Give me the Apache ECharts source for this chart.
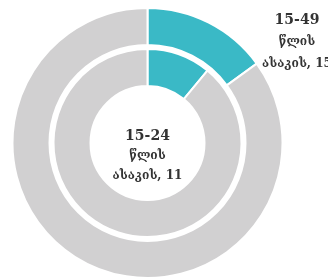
<!DOCTYPE html>
<html lang="ka">
<head>
    <meta charset="UTF-8">
    <title>chart</title>
    <script src="https://cdn.jsdelivr.net/npm/echarts@6/dist/echarts.min.js"></script>
    <style>
        html, body { margin: 0; padding: 0; background: #fff; }
    </style>
</head>
<body>
<div id="chart" style="width: 328px;height:280px;"></div>
<script type="text/javascript">
    // ring data: first item is the highlighted share, second is the rest
    var outerNames = ['15-49 წლის ასაკის', 'სხვა'];
    var outerValues = [15, 85];
    var innerNames = ['15-24 წლის ასაკის', 'სხვა'];
    var innerValues = [11, 89];

    var teal = '#3ab9c6';
    var grey = '#d1d0d1';

    function toData(names, values) {
        var arr = [];
        for (var i = 0; i < names.length; i++) {
            arr.push({
                name: names[i],
                value: values[i],
                itemStyle: {color: i === 0 ? teal : grey},
                label: {show: i === 0}
            });
        }
        return arr;
    }

    function labelText(p) {
        var parts = p.name.split(' ');
        return '{a|' + parts[0] + '}\n{b|' + parts[1] + '}\n{b|' + parts[2] + ', ' + p.value + '}';
    }

    function richStyle(lh) {
        return {
            a: {fontFamily: 'DejaVu Serif', fontWeight: 'bold', fontSize: 14, color: '#333', lineHeight: lh},
            b: {fontFamily: 'DejaVu Serif', fontWeight: 'bold', fontSize: 12, color: '#333', lineHeight: lh}
        };
    }

    var myChart = echarts.init(document.getElementById('chart'));
    var option = {
        animation: false,
        series: [{
            type: 'pie',
            silent: true,
            center: [147.5, 143],
            radius: [98, 135],
            startAngle: 90,
            itemStyle: {borderColor: '#fff', borderWidth: 2},
            label: {
                position: 'outside',
                formatter: labelText,
                rich: richStyle(22),
                align: 'center',
                overflow: 'none'
            },
            labelLine: {show: false},
            labelLayout: {x: 297, y: 42, align: 'center', verticalAlign: 'middle'},
            data: toData(outerNames, outerValues)
        }, {
            type: 'pie',
            silent: true,
            center: [147.5, 143],
            radius: [57, 94],
            startAngle: 90,
            itemStyle: {borderColor: '#fff', borderWidth: 2},
            label: {
                position: 'center',
                formatter: labelText,
                rich: richStyle(20),
                offset: [0, 13]
            },
            labelLine: {show: false},
            data: toData(innerNames, innerValues)
        }]
    };
    myChart.setOption(option);
</script>
</body>
</html>
